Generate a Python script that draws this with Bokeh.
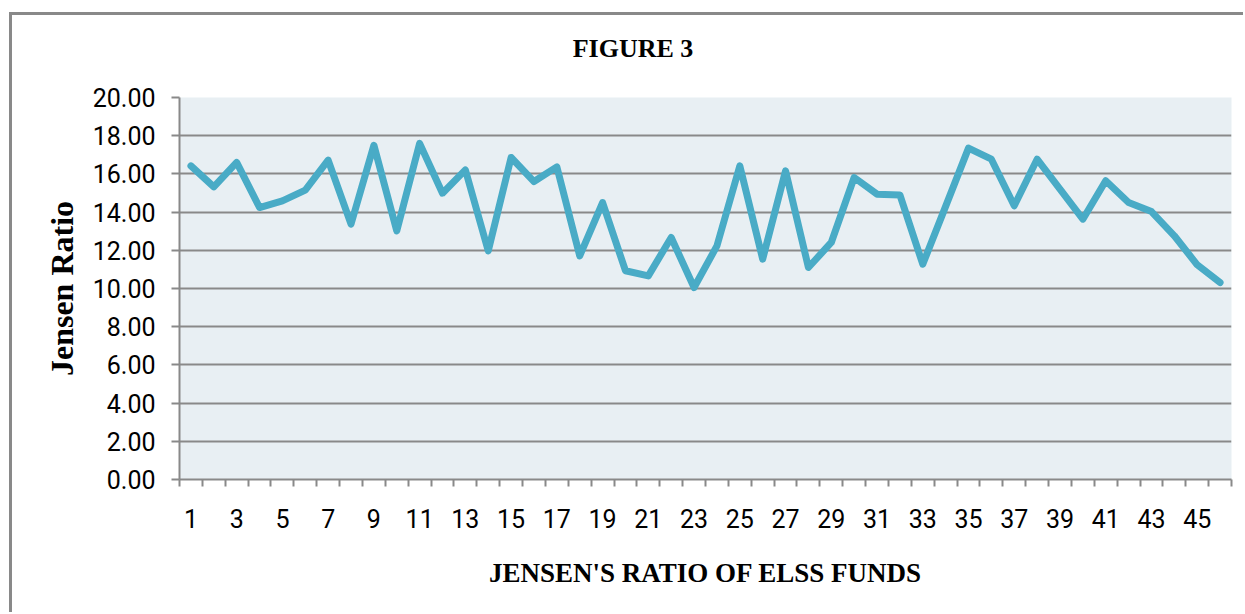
from bokeh.plotting import figure
from bokeh.models import Range1d, FixedTicker, PrintfTickFormatter, ColumnDataSource, Div
from bokeh.layouts import column
from bokeh.embed import file_html
from bokeh.resources import INLINE

# ---- data ----
funds = list(range(1, 47))
jensen = [16.42, 15.32, 16.60, 14.24, 14.59, 15.15, 16.72, 13.37, 17.50, 13.02,
          17.60, 14.99, 16.21, 11.97, 16.86, 15.60, 16.37, 11.71, 14.50, 10.93,
          10.66, 12.67, 10.05, 12.23, 16.42, 11.54, 16.16, 11.10, 12.41, 15.81,
          14.94, 14.90, 11.27, 14.30, 17.35, 16.77, 14.33, 16.77, 15.20, 13.63,
          15.64, 14.50, 14.03, 12.76, 11.24, 10.31]
x_tick_labels = [f for f in funds if f % 2 == 1]
y_ticks = [0, 2, 4, 6, 8, 10, 12, 14, 16, 18, 20]

title_text = "FIGURE 3"
x_title = "JENSEN'S RATIO OF ELSS FUNDS"
y_title = "Jensen Ratio"

GREY = "#898989"

title_div = Div(text=title_text, width=1231, height=60, margin=0,
                styles={"font-family": "'Liberation Serif'", "font-weight": "bold",
                        "font-size": "26px", "color": "black", "text-align": "center",
                        "padding-left": "11px", "padding-top": "15px",
                        "box-sizing": "border-box"})

p = figure(width=1231, height=537, output_backend="svg", toolbar_location=None,
           x_range=Range1d(0.5, len(funds) + 0.5), y_range=Range1d(0, 20),
           min_border_left=167, min_border_top=22, min_border_right=12,
           min_border_bottom=133)

p.background_fill_color = "#E8EFF3"
p.border_fill_color = "white"
p.outline_line_color = None

src = ColumnDataSource(dict(x=funds, y=jensen))
p.line("x", "y", source=src, line_color="#49ABC6", line_width=7,
       line_join="round", line_cap="round")

# x axis
xa = p.xaxis[0]
xa.ticker = FixedTicker(ticks=x_tick_labels,
                        minor_ticks=[f - 0.5 for f in funds] + [funds[-1] + 0.5])
xa.major_tick_out = 0
xa.major_tick_in = 0
xa.minor_tick_out = 7
xa.minor_tick_in = 0
xa.minor_tick_line_color = GREY
xa.minor_tick_line_width = 2
xa.axis_line_color = GREY
xa.axis_line_width = 2
xa.major_label_text_font = "Roboto"
xa.major_label_text_font_size = "25px"
xa.major_label_text_color = "black"
xa.major_label_standoff = 22
xa.axis_label = x_title
xa.axis_label_text_font = "Liberation Serif"
xa.axis_label_text_font_style = "bold"
xa.axis_label_text_font_size = "27px"
xa.axis_label_text_color = "black"
xa.axis_label_standoff = 27

# y axis
ya = p.yaxis[0]
ya.ticker = FixedTicker(ticks=y_ticks)
ya.formatter = PrintfTickFormatter(format="%.2f")
ya.major_tick_out = 8
ya.major_tick_in = 0
ya.minor_tick_out = 0
ya.minor_tick_in = 0
ya.major_tick_line_color = GREY
ya.major_tick_line_width = 2
ya.axis_line_color = GREY
ya.axis_line_width = 2
ya.major_label_text_font = "Roboto"
ya.major_label_text_font_size = "25px"
ya.major_label_text_color = "black"
ya.major_label_standoff = 16
ya.axis_label = y_title
ya.axis_label_text_font = "Liberation Serif"
ya.axis_label_text_font_style = "bold"
ya.axis_label_text_font_size = "32px"
ya.axis_label_text_color = "black"
ya.axis_label_standoff = 10

p.xgrid.visible = False
p.ygrid.grid_line_color = GREY
p.ygrid.grid_line_width = 2

layout = column(title_div, p, spacing=0,
                styles={"border-top": f"3px solid {GREY}", "border-left": f"3px solid {GREY}",
                        "margin-top": "12px", "margin-left": "9px"})

open("out.html", "w").write(file_html(layout, INLINE))
